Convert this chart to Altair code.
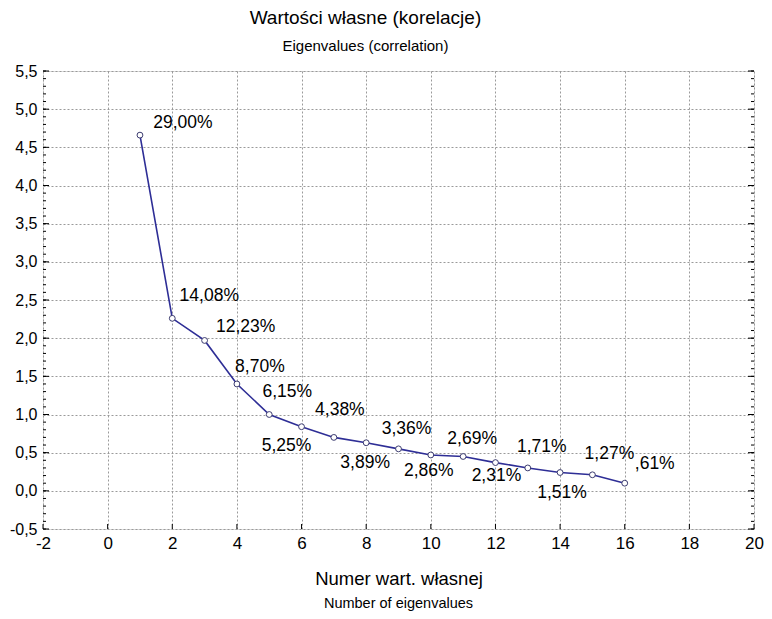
import altair as alt
import pandas as pd

# ---- data ----
numbers = list(range(1, 17))
eigenvalues = [4.66, 2.26, 1.97, 1.40, 1.00, 0.84, 0.70, 0.63, 0.55, 0.47, 0.45, 0.37, 0.30, 0.24, 0.21, 0.10]
pct_labels = ["29,00%", "14,08%", "12,23%", "8,70%", "6,15%", "5,25%", "4,38%", "3,89%",
              "3,36%", "2,86%", "2,69%", "2,31%", "1,71%", "1,51%", "1,27%", ",61%"]
# label offsets relative to each point (pixels)
label_dx = [43, 37, 41, 23, 18, -15, 6, -1, 8, -2, 9, 1, 14, 2, 17, 30]
label_dy = [-12, -22, -13, -17, -23, 19, -27, 20, -20, 16, -17, 13, -21, 20, -21, -19]

x_ticks = list(range(-2, 21, 2))
y_major = [round(-0.5 + 0.5 * i, 1) for i in range(13)]
y_minor = [round(-0.5 + 0.1 * i, 1) for i in range(61)]

W, H = 711, 458
FONT = "Liberation Sans"
LINE = "#2e2e96"

df = pd.DataFrame({"n": numbers, "v": eigenvalues, "lab": pct_labels})

xscale = alt.Scale(domain=[-2, 20], nice=False, zero=False)
yscale = alt.Scale(domain=[-0.5, 5.5], nice=False, zero=False)

x_axis = alt.Axis(
    values=x_ticks, grid=True, gridDash=[2, 2], gridColor="#9a9a9a", gridWidth=1,
    ticks=False, domain=False, labelFontSize=17, labelFont=FONT, labelColor="black",
    labelPadding=6, labelFlush=False, labelOverlap=False,
    labelExpr="(datum.value < 0 ? '-' : '') + format(abs(datum.value), 'd')",
    title="Numer wart. własnej", titleFont=FONT, titleFontSize=18.5,
    titleFontWeight="normal", titleColor="black", titlePadding=18)
y_axis = alt.Axis(
    values=y_major, grid=True, gridDash=[2, 2], gridColor="#9a9a9a", gridWidth=1,
    ticks=False, domain=False, labelFontSize=16, labelFont=FONT, labelColor="black",
    labelPadding=6, labelFlush=False, labelOverlap=False,
    labelExpr="(datum.value < 0 ? '-' : '') + replace(format(abs(datum.value), '.1f'), '.', ',')",
    title=None)


def X(field):
    return alt.X(field, scale=xscale, axis=x_axis, title="Numer wart. własnej")


def Y(field):
    return alt.Y(field, scale=yscale, axis=y_axis, title=None)


base = alt.Chart(df)
line = base.mark_line(color=LINE, strokeWidth=1.6).encode(x=X("n:Q"), y=Y("v:Q"))
points = base.mark_point(shape="circle", filled=False, fill="white", fillOpacity=1,
                         stroke="#3c3c70", strokeWidth=1, size=34, opacity=1).encode(
    x=X("n:Q"), y=Y("v:Q"))

label_layers = []
for i in range(len(numbers)):
    label_layers.append(
        base.transform_filter(alt.datum.n == numbers[i]).mark_text(
            font=FONT, fontSize=17.5, color="black", align="center", baseline="middle",
            dx=label_dx[i], dy=label_dy[i]).encode(x=X("n:Q"), y=Y("v:Q"), text="lab:N"))

# inward frame ticks
minor_df = pd.DataFrame({"v": y_minor})
major_df = pd.DataFrame({"v": y_major})
xt_df = pd.DataFrame({"n": x_ticks})
tk = dict(color="black", strokeWidth=1)
l_minor = alt.Chart(minor_df).mark_rule(**tk).encode(
    y=Y("v:Q"), x=alt.value(0), x2=alt.value(3))
l_major = alt.Chart(major_df).mark_rule(**tk).encode(
    y=Y("v:Q"), x=alt.value(0), x2=alt.value(6))
r_minor = alt.Chart(minor_df).mark_rule(**tk).encode(
    y=Y("v:Q"), x=alt.value(W - 3), x2=alt.value(W))
r_major = alt.Chart(major_df).mark_rule(**tk).encode(
    y=Y("v:Q"), x=alt.value(W - 6), x2=alt.value(W))
b_major = alt.Chart(xt_df).mark_rule(**tk).encode(
    x=X("n:Q"), y=alt.value(H - 5), y2=alt.value(H))

inner = alt.layer(line, l_minor, l_major, r_minor, r_major, b_major, points,
                  *label_layers).properties(
    width=W, height=H,
    title=alt.TitleParams("Number of eigenvalues", orient="bottom", anchor="middle",
                          font=FONT, fontSize=14.5, fontWeight="normal", color="black",
                          offset=9))

chart = alt.vconcat(inner).properties(
    padding={"left": 0, "top": 0, "right": 0, "bottom": 0},
    title=alt.TitleParams("Wartości własne (korelacje)", subtitle="Eigenvalues (correlation)",
                          anchor="middle", dx=-21, font=FONT, fontSize=19, fontWeight="normal",
                          color="black", subtitleFont=FONT, subtitleFontSize=15,
                          subtitleColor="black", subtitlePadding=11, offset=9)
).configure_view(stroke="black", strokeWidth=2).configure(background="white")

chart.save("out.html", embed_options={"renderer": "svg", "actions": False})
